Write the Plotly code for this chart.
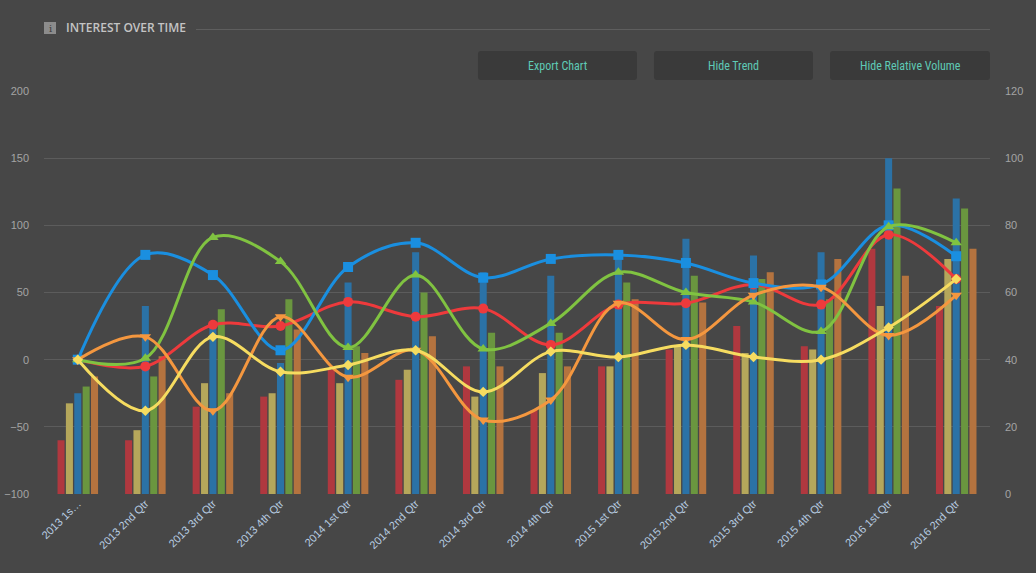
import plotly.graph_objects as go

categories = ["2013 1st Qtr", "2013 2nd Qtr", "2013 3rd Qtr", "2013 4th Qtr",
              "2014 1st Qtr", "2014 2nd Qtr", "2014 3rd Qtr", "2014 4th Qtr",
              "2015 1st Qtr", "2015 2nd Qtr", "2015 3rd Qtr", "2015 4th Qtr",
              "2016 1st Qtr", "2016 2nd Qtr"]
tick_labels = ["2013 1s\u2026"] + categories[1:]

# relative volume (right axis, bars)
red_vol = [16, 16, 26, 29, 37, 34, 38, 25, 38, 43, 50, 44, 73, 56]
khaki_vol = [27, 19, 33, 30, 33, 37, 29, 36, 38, 44, 42, 43, 56, 70]
blue_vol = [30, 56, 50, 39, 63, 72, 66, 65, 71, 76, 71, 72, 100, 88]
green_vol = [32, 35, 55, 58, 44, 60, 48, 48, 63, 65, 64, 58, 91, 85]
orange_vol = [35, 41, 30, 49, 42, 47, 38, 38, 58, 57, 66, 70, 65, 73]

# trend (left axis, lines)
blue_tr = [0, 78, 63, 7, 69, 87, 61, 75, 78, 72, 57, 56, 100, 77]
green_tr = [0, 1, 91, 73, 9, 63, 8, 27, 65, 50, 43, 21, 99, 87]
red_tr = [0, -5, 26, 25, 43, 32, 38, 11, 41, 42, 56, 41, 93, 60]
orange_tr = [0, 17, -38, 32, -13, 7, -45, -30, 42, 15, 48, 54, 18, 48]
yellow_tr = [0, -38, 17, -9, -4, 7, -24, 6, 2, 11, 2, 0, 24, 60]

left_ticks = [-100, -50, 0, 50, 100, 150, 200]
right_ticks = [0, 20, 40, 60, 80, 100, 120]

BG = "#474747"
W, H = 1036, 573
L, R, T, B = 44, 46, 91, 79
PW, PH = W - L - R, H - T - B


def px(x):
    return (x - L) / PW


def py(y):
    return (H - B - y) / PH


def rounded_rect(x0, y0, x1, y1, r):
    # pixel coords -> paper path with rounded corners
    X = lambda v: f"{px(v):.5f}"
    Y = lambda v: f"{py(v):.5f}"
    return (f"M {X(x0 + r)} {Y(y0)} L {X(x1 - r)} {Y(y0)} Q {X(x1)} {Y(y0)} {X(x1)} {Y(y0 + r)} "
            f"L {X(x1)} {Y(y1 - r)} Q {X(x1)} {Y(y1)} {X(x1 - r)} {Y(y1)} "
            f"L {X(x0 + r)} {Y(y1)} Q {X(x0)} {Y(y1)} {X(x0)} {Y(y1 - r)} "
            f"L {X(x0)} {Y(y0 + r)} Q {X(x0)} {Y(y0)} {X(x0 + r)} {Y(y0)} Z")


fig = go.Figure()

bar_specs = [(red_vol, "#b0383f"), (khaki_vol, "#b5a75b"), (blue_vol, "#2b72a6"),
             (green_vol, "#6a963f"), (orange_vol, "#b4733f")]
for vals, col in bar_specs:
    fig.add_trace(go.Bar(x=categories, y=vals, marker=dict(color=col, line=dict(width=0)),
                         yaxis="y", hoverinfo="skip", showlegend=False))

line_specs = [(red_tr, "#ee3a3c", "circle", 10),
              (blue_tr, "#1a8fe0", "square", 10),
              (green_tr, "#80c341", "triangle-up", 10),
              (orange_tr, "#f4973f", "triangle-down", 10),
              (yellow_tr, "#f6dc60", "diamond", 8)]
for vals, col, sym, sz in line_specs:
    fig.add_trace(go.Scatter(x=categories, y=vals, mode="lines+markers", yaxis="y2",
                             line=dict(color=col, width=3, shape="spline", smoothing=1),
                             marker=dict(symbol=sym, size=sz, color=col),
                             showlegend=False, hoverinfo="skip"))

shapes = []
annotations = []

# title
shapes.append(dict(type="rect", xref="paper", yref="paper", x0=px(44), x1=px(56), y0=py(34), y1=py(22),
                   fillcolor="#8c8c8c", line=dict(width=0)))
annotations.append(dict(text="i", xref="paper", yref="paper", x=px(50), y=py(28.5),
                        showarrow=False, xanchor="center", yanchor="middle",
                        font=dict(family="DejaVu Serif", size=10, color="#3c3c3c")))
annotations.append(dict(text="INTEREST OVER TIME", xref="paper", yref="paper", x=px(64), y=py(28),
                        xanchor="left", yanchor="middle", showarrow=False,
                        font=dict(family="Open Sans", size=12, color="#c4c4c4", weight=600)))
shapes.append(dict(type="line", xref="paper", yref="paper", x0=px(196), x1=px(990), y0=py(29.5), y1=py(29.5),
                   line=dict(color="#5e5e5e", width=1)))

# buttons
for x0, x1, label in [(478, 637, "Export Chart"), (654, 813, "Hide Trend"), (830, 990, "Hide Relative Volume")]:
    shapes.append(dict(type="path", xref="paper", yref="paper", path=rounded_rect(x0, 51, x1, 80, 3),
                       fillcolor="#3a3a3a", line=dict(width=0)))
    annotations.append(dict(text=label, xref="paper", yref="paper", x=px((x0 + x1) / 2), y=py(66),
                            showarrow=False, xanchor="center", yanchor="middle",
                            font=dict(family="Liberation Sans Narrow, Roboto Condensed, Roboto", size=12,
                                      color="#5fcab6")))

fig.update_layout(
    width=W, height=H,
    margin=dict(l=L, r=R, t=T, b=B, autoexpand=False),
    paper_bgcolor=BG, plot_bgcolor=BG,
    barmode="group", bargap=0.38, bargroupgap=0.16,
    font=dict(family="Liberation Sans, Arial", size=11, color="#a4a4a4"),
    xaxis=dict(type="category", range=[-0.5, len(categories) - 0.5], tickangle=-45,
               tickvals=categories, ticktext=tick_labels,
               tickfont=dict(size=11, color="#b8cde2"), showgrid=False, showline=False,
               zeroline=False, ticks=""),
    yaxis=dict(side="right", range=[0, 120], tickvals=right_ticks, showgrid=True,
               gridcolor="#5c5c5c", gridwidth=1, zeroline=False, showline=False, ticks="",
               ticklabelstandoff=14, tickfont=dict(size=11, color="#a4a4a4")),
    yaxis2=dict(side="left", overlaying="y", range=[-100, 200], tickvals=left_ticks,
                showgrid=False, zeroline=False, showline=False, ticks="",
                ticklabelstandoff=14, tickfont=dict(size=11, color="#a4a4a4")),
    shapes=shapes,
    annotations=annotations,
)

fig.write_html(
    "out.html",
    config={"displayModeBar": False},
    post_script="document.body.style.margin='0';document.body.style.overflow='hidden';"
                "document.body.style.background='#474747';",
)
